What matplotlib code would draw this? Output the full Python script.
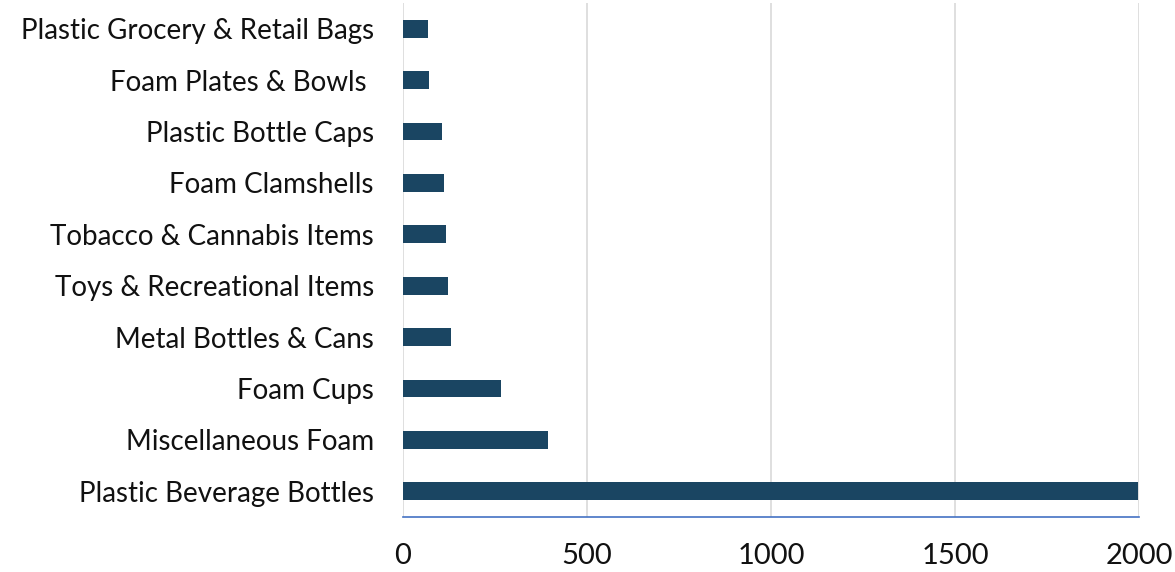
import matplotlib
matplotlib.use("Agg")
import matplotlib.pyplot as plt

categories = [
    "Plastic Beverage Bottles",
    "Miscellaneous Foam",
    "Foam Cups",
    "Metal Bottles & Cans",
    "Toys & Recreational Items",
    "Tobacco & Cannabis Items",
    "Foam Clamshells",
    "Plastic Bottle Caps",
    "Foam Plates & Bowls ",
    "Plastic Grocery & Retail Bags",
]
values = [1997, 395, 265, 130, 122, 118, 111, 105, 71, 68]
xticks = [0, 500, 1000, 1500, 2000]

plt.rcParams['font.family'] = ['Lato', 'DejaVu Sans']

fig = plt.figure(figsize=(11.75, 5.72), dpi=100)
ax = fig.add_axes([403/1175, 1 - 517/572, (1139 - 403)/1175, (517 - 3)/572])

ypos = list(range(len(categories)))
ax.barh(ypos, values, height=0.35, color="#1A4562", zorder=3)
ax.set_yticks(ypos)
ax.set_yticklabels(categories, fontsize=20, color="#111111")
ax.set_ylim(-0.5, len(categories) - 0.5)
ax.set_xlim(0, 2000)
ax.set_xticks(xticks)
ax.set_xticklabels([str(t) for t in xticks], fontsize=21, color="#111111")
ax.grid(axis="x", color="#D9D9D9", linewidth=1.2, zorder=0)
for s in ["top", "right", "left"]:
    ax.spines[s].set_visible(False)
ax.spines["bottom"].set_color("#4472C4")
ax.spines["bottom"].set_linewidth(1.2)
ax.tick_params(axis="both", length=0)
ax.tick_params(axis="y", pad=21)
ax.tick_params(axis="x", pad=19)

fig.savefig("out.png", dpi=100)
